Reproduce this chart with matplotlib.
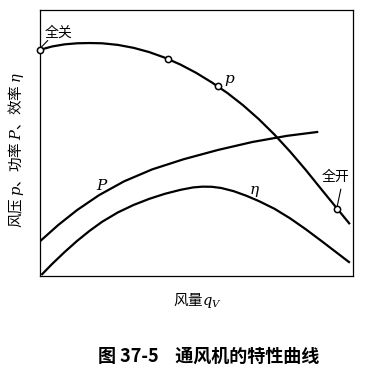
import matplotlib
matplotlib.use("Agg")
import matplotlib.pyplot as plt

plt.rcParams['font.family'] = ['Noto Sans CJK SC', 'DejaVu Sans']
plt.rcParams['mathtext.fontset'] = 'dejavuserif'

# Normalized flow (x) and normalized curve values (y)
p_q = [0.0, 0.04, 0.08, 0.12, 0.16, 0.20, 0.25, 0.30, 0.35, 0.40, 0.45, 0.50, 0.55, 0.60,
       0.65, 0.70, 0.75, 0.80, 0.85, 0.90, 0.95, 0.991]
p_v = [0.850, 0.863, 0.871, 0.875, 0.876, 0.875, 0.869, 0.858, 0.842, 0.821, 0.795, 0.764, 0.728, 0.688,
       0.642, 0.590, 0.532, 0.468, 0.399, 0.326, 0.254, 0.195]

P_q = [0.0, 0.06, 0.12, 0.19, 0.27, 0.36, 0.46, 0.57, 0.68, 0.79, 0.89]
P_v = [0.129, 0.192, 0.248, 0.304, 0.356, 0.401, 0.439, 0.474, 0.504, 0.527, 0.542]

eta_q = [0.006, 0.04, 0.08, 0.12, 0.16, 0.20, 0.25, 0.30, 0.35, 0.40, 0.45, 0.49, 0.52, 0.55,
         0.58, 0.62, 0.66, 0.70, 0.75, 0.80, 0.85, 0.90, 0.95, 0.991]
eta_v = [0.004, 0.045, 0.090, 0.132, 0.170, 0.204, 0.239, 0.267, 0.290, 0.309, 0.324, 0.333, 0.336, 0.3355,
         0.331, 0.319, 0.302, 0.282, 0.253, 0.217, 0.176, 0.132, 0.087, 0.050]

mark_q = [0.0, 0.41, 0.569, 0.951]
mark_v = [0.850, 0.816, 0.713, 0.253]

fig = plt.figure(figsize=(3.81, 3.72), dpi=100)
ax = fig.add_axes([0.1037, 0.258, 0.822, 0.715])
ax.set_xlim(0, 1)
ax.set_ylim(0, 1)
ax.set_xticks([])
ax.set_yticks([])
for s in ax.spines.values():
    s.set_linewidth(0.9)

lw = 1.6
for xs, ys in ((p_q, p_v), (P_q, P_v), (eta_q, eta_v)):
    ax.plot(xs, ys, color='black', lw=lw, solid_capstyle='butt', solid_joinstyle='round')
ax.plot(mark_q, mark_v, ls='none', marker='o', ms=4.5, mfc='white', mec='black', mew=1.1, clip_on=False, zorder=5)

# labels on curves
ax.text(0.606, 0.737, r'$p$', fontsize=11, ha='center', va='center')
ax.text(0.202, 0.342, r'$P$', fontsize=11, ha='center', va='center')
ax.text(0.685, 0.320, r'$\eta$', fontsize=11, ha='center', va='center')

ax.text(0.017, 0.914, '全关', fontsize=10, ha='left', va='center')
ax.plot([0.007, 0.026], [0.862, 0.885], color='black', lw=0.8)
ax.text(0.946, 0.373, '全开', fontsize=10, ha='center', va='center')
ax.plot([0.951, 0.962], [0.265, 0.326], color='black', lw=0.8)

fig.text(16/381, 1 - 150/372, r'风压 $p$、功率 $P$、效率 $\eta$', rotation=90,
         fontsize=10.5, ha='center', va='center')
fig.text(197/381, 1 - 300/372, r'风量$q_V$', fontsize=10.5, ha='center', va='center')
fig.text(209/381, 1 - 356/372, '图 37-5    通风机的特性曲线', fontsize=13,
         fontweight='bold', ha='center', va='center')

fig.savefig('out.png', dpi=100)
